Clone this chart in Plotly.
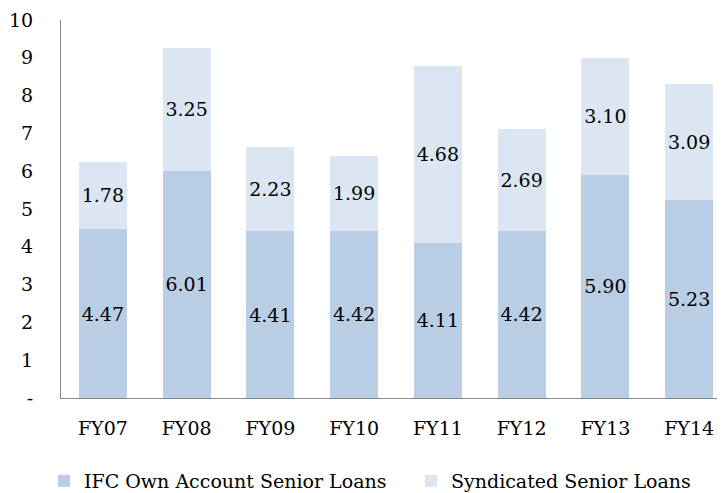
import plotly.graph_objects as go

categories = ["FY07", "FY08", "FY09", "FY10", "FY11", "FY12", "FY13", "FY14"]
own_account = [4.47, 6.01, 4.41, 4.42, 4.11, 4.42, 5.90, 5.23]
syndicated = [1.78, 3.25, 2.23, 1.99, 4.68, 2.69, 3.10, 3.09]
y_tickvals = [0, 1, 2, 3, 4, 5, 6, 7, 8, 9, 10]
y_ticktext = ["-", "1", "2", "3", "4", "5", "6", "7", "8", "9", "10"]

FONT = "DejaVu Serif"
FS = 19

fig = go.Figure()
fig.add_trace(go.Bar(
    name="IFC Own Account Senior Loans", x=categories, y=own_account,
    marker=dict(color="#B9CDE5", line=dict(width=0)),
    text=[f"{v:.2f}" for v in own_account], textposition="inside",
    insidetextanchor="middle", textangle=0,
    textfont=dict(family=FONT, size=FS, color="black"), width=0.573,
    legend="legend",
))
fig.add_trace(go.Bar(
    name="Syndicated Senior Loans", x=categories, y=syndicated,
    marker=dict(color="#DCE6F2", line=dict(width=0)),
    text=[f"{v:.2f}" for v in syndicated], textposition="inside",
    insidetextanchor="middle", textangle=0,
    textfont=dict(family=FONT, size=FS, color="black"), width=0.573,
    legend="legend2",
))

legend_common = dict(
    orientation="h", xref="container", yref="container",
    xanchor="left", y=1 - 454 / 493, yanchor="top",
    font=dict(family=FONT, size=FS, color="black"),
    bgcolor="rgba(0,0,0,0)",
)

fig.update_layout(
    barmode="stack",
    width=725, height=493,
    margin=dict(l=53, r=2, t=12, b=103),
    paper_bgcolor="white", plot_bgcolor="white",
    font=dict(family=FONT, size=FS, color="black"),
    uniformtext=dict(minsize=FS, mode="show"),
    showlegend=True,
    legend=dict(x=36 / 725, **legend_common),
    legend2=dict(x=403 / 725, **legend_common),
    xaxis=dict(
        range=[-0.5, 7.5], showgrid=False, zeroline=False,
        showline=True, linecolor="#868686", linewidth=1,
        ticks="", ticklabelstandoff=13,
        tickfont=dict(family=FONT, size=FS, color="black"),
    ),
    yaxis=dict(
        range=[0, 10], tickvals=y_tickvals, ticktext=y_ticktext,
        showgrid=False, zeroline=False,
        showline=True, linecolor="#868686", linewidth=1,
        ticks="", ticklabelstandoff=23,
        tickfont=dict(family=FONT, size=FS, color="black"),
    ),
)

fig.write_html("out.html")
